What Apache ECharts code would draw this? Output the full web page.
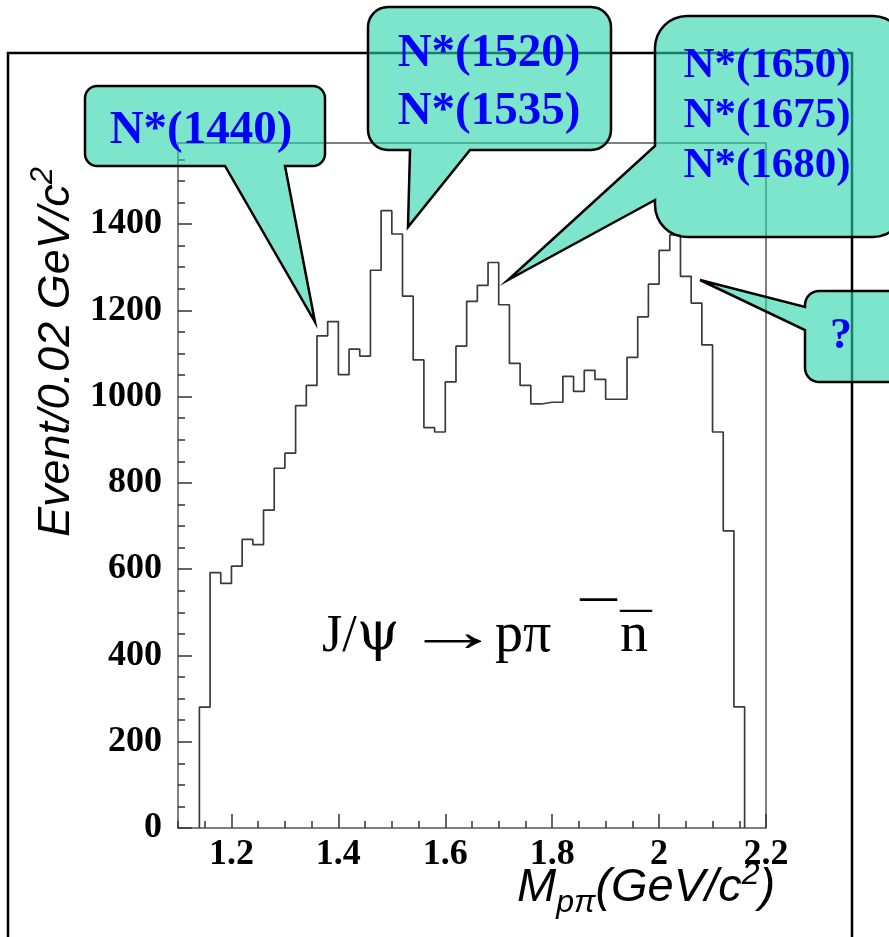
<!DOCTYPE html>
<html>
<head>
<meta charset="utf-8">
<script src="https://cdn.jsdelivr.net/npm/echarts@6/dist/echarts.min.js"></script>
<style>
html,body{margin:0;padding:0;background:#fff;}
#chart{width:889px;height:937px;}
</style>
</head>
<body>
<div id="chart"></div>
<script>
// ---- data ----
const binStart = 1.14;          // GeV/c^2, left edge of first bin
const binWidth = 0.02;          // GeV/c^2
const counts = [280, 592, 567, 607, 669, 657, 737, 834, 869, 979,
                1026, 1141, 1174, 1051, 1110, 1094, 1293, 1431, 1377, 1233,
                1085, 928, 918, 1034, 1117, 1221, 1258, 1311, 1213, 1077,
                1026, 983, 987, 987, 1047, 1012, 1061, 1040, 994, 994,
                1091, 1185, 1261, 1339, 1375, 1279, 1217, 1120, 918, 689,
                281];
const xTickLabels = [1.2, 1.4, 1.6, 1.8, 2.0, 2.2];
const yTickLabels = [0, 200, 400, 600, 800, 1000, 1200, 1400];
const yMinorTicks = [50,100,150,200,250,300,350,400,450,500,550,600,650,700,750,800,
                     850,900,950,1000,1050,1100,1150,1200,1250,1300,1350,1400,1450,1500,1550];
const xRange = [1.1, 2.2];
const yRange = [0, 1588];
const resonanceLabels = [['N*(1440)'], ['N*(1520)', 'N*(1535)'], ['N*(1650)', 'N*(1675)', 'N*(1680)'], ['?']];

// ---- histogram outline points ----
const histPoints = [[binStart, 0]];
counts.forEach((c, i) => histPoints.push([+(binStart + i * binWidth).toFixed(2), c]));
histPoints.push([+(binStart + counts.length * binWidth).toFixed(2), 0]);

// ---- text helpers ----
const mctx = document.createElement('canvas').getContext('2d');
function tw(str, font) { mctx.font = font; return mctx.measureText(str).width; }
const SANS_MID = 0.3465, SERIF_MID = 0.3375;
// pieces laid out on one baseline; returns text elements in local coords
function pieces(list, x0, base) {
  let x = x0;
  return list.map(p => {
    const font = (p.style || '') + ' ' + p.fs + 'px ' + p.family;
    const el = {type: 'text', z: 5, x: x, y: base + (p.dy || 0) - p.mid * p.fs,
      scaleX: p.sx || 1,
      style: {text: p.t, fill: '#000', font: font, align: 'left', verticalAlign: 'middle'}};
    x += (p.adv != null ? p.adv : tw(p.t, font) * (p.sx || 1));
    return el;
  });
}

// ---- callout geometry (decoration) ----
const bubbles = [
  {x: 85, y: 86, w: 240, h: 80, r: 12, side: 'bottom', tail: [[285,166],[315,322],[225,166]]},
  {x: 368, y: 7, w: 243, h: 143, r: 20, side: 'bottom', tail: [[470,150],[408,227],[410,150]]},
  {x: 655, y: 16, w: 250, h: 221, r: 32, side: 'left', tail: [[655,200],[508,280],[655,146]]},
  {x: 805, y: 291, w: 100, h: 91, r: 14, side: 'left', tail: [[805,330],[700,280],[805,307]]}
];
const bubbleText = [
  {x: 201, ys: [131], fs: 47},
  {x: 489, ys: [54, 112], fs: 47},
  {x: 767, ys: [65.5, 115.5, 165.5], fs: 43},
  {x: 841, ys: [337], fs: 44}
];
function bubblePoints(b) {
  const pts = [];
  const arc = (cx, cy, a0, a1) => {
    for (let i = 0; i <= 8; i++) {
      const a = (a0 + (a1 - a0) * i / 8) * Math.PI / 180;
      pts.push([cx + b.r * Math.cos(a), cy + b.r * Math.sin(a)]);
    }
  };
  arc(b.x + b.w - b.r, b.y + b.r, -90, 0);
  arc(b.x + b.w - b.r, b.y + b.h - b.r, 0, 90);
  if (b.side === 'bottom') pts.push(...b.tail);
  arc(b.x + b.r, b.y + b.h - b.r, 90, 180);
  if (b.side === 'left') pts.push(...b.tail);
  arc(b.x + b.r, b.y + b.r, 180, 270);
  return pts;
}

const graphics = [];
// outer frame
graphics.push({type: 'rect', z: 1, shape: {x: 8, y: 53, width: 844, height: 920},
  style: {fill: 'none', stroke: '#000', lineWidth: 2.5}});
bubbles.forEach((b, i) => {
  graphics.push({type: 'polygon', z: 20, shape: {points: bubblePoints(b)},
    style: {fill: 'rgba(40,211,172,0.6)', stroke: '#000', lineWidth: 2.5, lineJoin: 'miter'}});
  const t = bubbleText[i];
  resonanceLabels[i].forEach((s, k) => {
    graphics.push({type: 'text', z: 21, x: t.x, y: t.ys[k],
      style: {text: s, fill: '#0000ff', font: 'bold ' + t.fs + 'px "Liberation Serif"',
              align: 'center', verticalAlign: 'middle'}});
  });
});
// reaction label  J/ψ → p π⁻ n̄
const LS = '"Liberation Serif"', DS = '"DejaVu Serif"', LSA = '"Liberation Sans"';
graphics.push(...pieces([{t: 'J/', fs: 52, family: LS, mid: SERIF_MID}], 322, 655));
graphics.push(...pieces([{t: 'ψ', fs: 54, family: DS, mid: 0.36}], 357, 655));
graphics.push(...pieces([{t: '→', fs: 58, family: LS, mid: SERIF_MID, sx: 1.65}], 405, 655));
graphics.push(...pieces([{t: 'pπ', fs: 56, family: LS, mid: SERIF_MID}], 495, 655));
graphics.push(...pieces([{t: '—', fs: 37, family: LS, style: 'bold', mid: SERIF_MID}], 580, 612));
graphics.push(...pieces([{t: 'n', fs: 56, family: LS, mid: SERIF_MID}], 620, 655));
graphics.push(...pieces([{t: '—', fs: 32, family: LS, style: 'bold', mid: SERIF_MID}], 620, 621));
// x-axis title  M_pπ(GeV/c²)
graphics.push(...pieces([
  {t: 'M', fs: 47, family: LSA, style: 'italic', mid: SANS_MID},
  {t: 'pπ', fs: 32, family: LSA, style: 'italic', mid: SANS_MID, dy: 10},
  {t: '(GeV/c', fs: 47, family: LSA, style: 'italic', mid: SANS_MID},
  {t: '2', fs: 32, family: LSA, style: 'italic', mid: SANS_MID, dy: -18},
  {t: ')', fs: 47, family: LSA, style: 'italic', mid: SANS_MID}
], 517, 904));
// y-axis title  Event/0.02 GeV/c²  (rotated group)
graphics.push({type: 'group', x: 72, y: 537, rotation: Math.PI / 2, children: pieces([
  {t: 'Event/0.02 GeV/c', fs: 45, family: LSA, style: 'italic', mid: SANS_MID},
  {t: '2', fs: 31, family: LSA, style: 'italic', mid: SANS_MID, dy: -18}
], 0, 0)});

const tickColor = '#333';
const labelStyle = {fontFamily: 'Liberation Serif', fontWeight: 'bold', fontSize: 36, color: '#000',
                    formatter: v => String(v)};
const chart = echarts.init(document.getElementById('chart'));
chart.setOption({
  animation: false,
  backgroundColor: '#fff',
  grid: {left: 178, right: 123, top: 143, bottom: 109, show: true,
         borderColor: '#555', borderWidth: 1.5, containLabel: false},
  xAxis: [
    {type: 'value', min: xRange[0], max: xRange[1], position: 'bottom',
     axisLine: {show: false}, splitLine: {show: false},
     axisTick: {show: true, inside: true, length: 14, customValues: xTickLabels,
                lineStyle: {color: tickColor, width: 1.5}},
     axisLabel: Object.assign({customValues: xTickLabels, margin: 9}, labelStyle)},
    {type: 'value', min: xRange[0], max: xRange[1], position: 'bottom', interval: 0.05,
     axisLine: {show: false}, splitLine: {show: false},
     axisTick: {show: true, inside: true, length: 7, lineStyle: {color: tickColor, width: 1.5}},
     axisLabel: {show: false}}
  ],
  yAxis: [
    {type: 'value', min: yRange[0], max: yRange[1], position: 'left',
     axisLine: {show: false}, splitLine: {show: false},
     axisTick: {show: true, inside: true, length: 14, customValues: yTickLabels,
                lineStyle: {color: tickColor, width: 1.5}},
     axisLabel: Object.assign({customValues: yTickLabels, margin: 16}, labelStyle)},
    {type: 'value', min: yRange[0], max: yRange[1], position: 'left',
     axisLine: {show: false}, splitLine: {show: false},
     axisTick: {show: true, inside: true, length: 7, customValues: yMinorTicks,
                lineStyle: {color: tickColor, width: 1.5}},
     axisLabel: {show: false}}
  ],
  series: [{
    type: 'line', xAxisIndex: 0, yAxisIndex: 0, step: 'end', symbol: 'none',
    data: histPoints, lineStyle: {color: '#3a3a3a', width: 1.7}, z: 3
  }],
  graphic: graphics
});
</script>
</body>
</html>
